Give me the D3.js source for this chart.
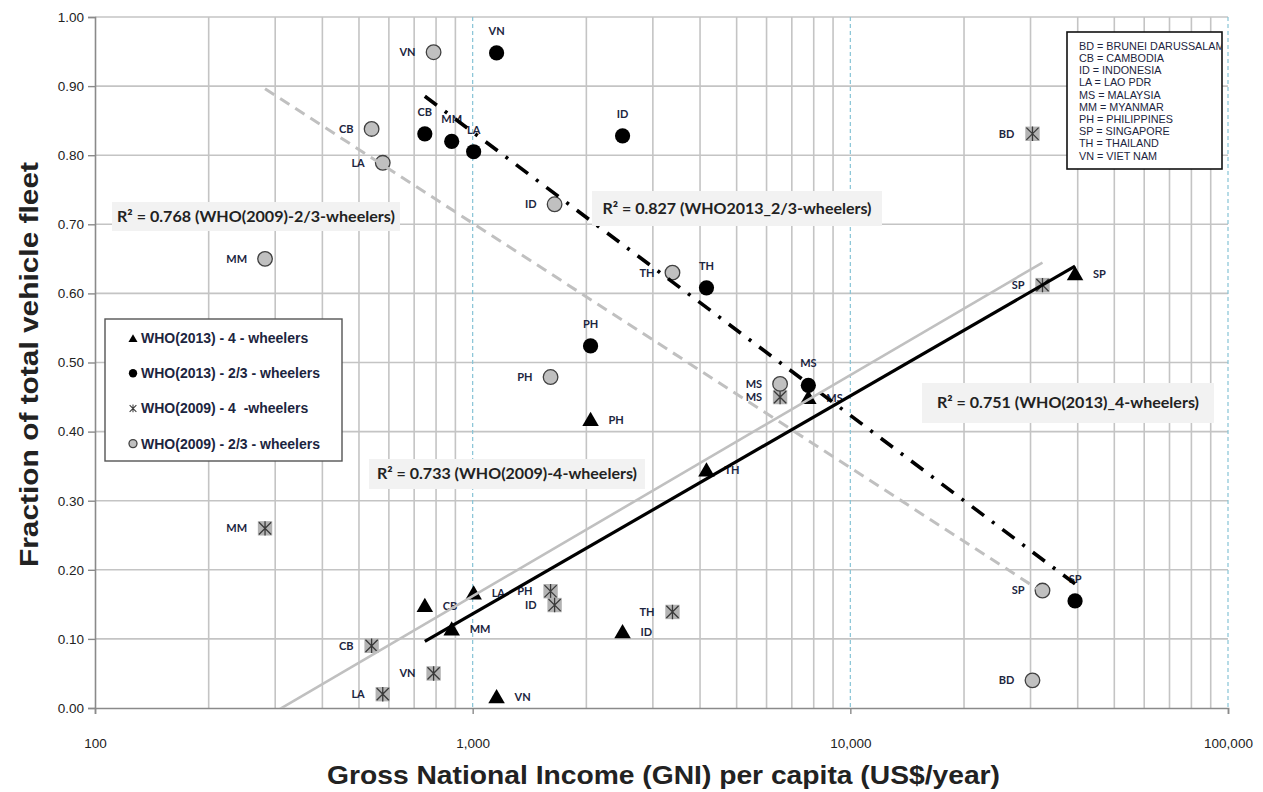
<!DOCTYPE html>
<html>
<head>
<meta charset="utf-8">
<script src="https://cdn.jsdelivr.net/npm/d3@7"></script>
<style>
  body { margin: 0; background: #fff; }
  svg { display: block; }
  text { white-space: pre; }
</style>
</head>
<body>
<svg id="chart" width="1263" height="792"></svg>
<script>
// ---- data -------------------------------------------------------------
// WHO (2013) survey: GNI per capita (US$/year) and share of the vehicle fleet
const countries2013 = ["CB", "MM", "LA", "VN", "PH", "ID", "TH", "MS", "SP"];
const gni2013 = [747, 880, 1006, 1157, 2052, 2494, 4160, 7742, 39360];
const fourWheel2013 = [0.148, 0.114, 0.166, 0.016, 0.417, 0.110, 0.344, 0.449, 0.628];
const twoThreeWheel2013 = [0.831, 0.820, 0.805, 0.948, 0.524, 0.828, 0.608, 0.467, 0.155];

// WHO (2009) survey
const countries2009 = ["MM", "CB", "LA", "VN", "PH", "ID", "TH", "MS", "BD", "SP"];
const gni2009 = [282, 540, 578, 788, 1608, 1648, 3381, 6516, 30360, 32270];
const fourWheel2009 = [0.260, 0.090, 0.020, 0.050, 0.169, 0.149, 0.139, 0.450, 0.831, 0.612];
const twoThreeWheel2009 = [0.650, 0.838, 0.789, 0.949, 0.479, 0.729, 0.630, 0.469, 0.040, 0.170];

const seriesNames = [
  "WHO(2013) - 4 - wheelers",
  "WHO(2013) - 2/3 - wheelers",
  "WHO(2009) - 4  -wheelers",
  "WHO(2009) - 2/3 - wheelers"
];
const fitLabels = [
  "R² = 0.751 (WHO(2013)_4-wheelers)",
  "R² = 0.827 (WHO2013_2/3-wheelers)",
  "R² = 0.733 (WHO(2009)-4-wheelers)",
  "R² = 0.768 (WHO(2009)-2/3-wheelers)"
];
const countryKey = [
  "BD = BRUNEI DARUSSALAM", "CB = CAMBODIA", "ID = INDONESIA", "LA = LAO PDR",
  "MS = MALAYSIA", "MM = MYANMAR", "PH = PHILIPPINES", "SP = SINGAPORE",
  "TH = THAILAND", "VN = VIET NAM"
];
const yTicks = [0, 0.1, 0.2, 0.3, 0.4, 0.5, 0.6, 0.7, 0.8, 0.9, 1.0];
const xTicks = [100, 1000, 10000, 100000];
const xTitle = "Gross National Income (GNI) per capita (US$/year)";
const yTitle = "Fraction of total vehicle fleet";

// ---- layout -----------------------------------------------------------
const W = 1263, H = 792;
const plot = { left: 95, top: 17, right: 1228, bottom: 708 };
const svg = d3.select("#chart");

const x = d3.scaleLog().domain([100, 100000]).range([plot.left, plot.right]);
const y = d3.scaleLinear().domain([0, 1]).range([plot.bottom, plot.top]);

const navy = "#1c2540";
const labelFont = "Lato, 'Open Sans', sans-serif";
const arial = "'Liberation Sans', Arial, sans-serif";

// ---- grid -------------------------------------------------------------
const minorX = [];
[100, 1000, 10000].forEach(dec => { for (let k = 2; k <= 9; k++) minorX.push(dec * k); });

const grid = svg.append("g");
grid.selectAll("line.hx").data(yTicks.filter(v => v > 0)).join("line")
  .attr("x1", plot.left).attr("x2", plot.right)
  .attr("y1", d => y(d)).attr("y2", d => y(d))
  .attr("stroke", "#c4c4c4").attr("stroke-width", 1.6);
grid.selectAll("line.vx").data(minorX).join("line")
  .attr("x1", d => x(d)).attr("x2", d => x(d))
  .attr("y1", plot.top).attr("y2", plot.bottom)
  .attr("stroke", "#c4c4c4").attr("stroke-width", 1.6);
grid.selectAll("line.vmaj").data(xTicks.slice(1)).join("line")
  .attr("x1", d => x(d)).attr("x2", d => x(d))
  .attr("y1", plot.top).attr("y2", plot.bottom)
  .attr("stroke", "#86c3d6").attr("stroke-width", 1.2)
  .attr("stroke-dasharray", "4,3");

// ---- axes -------------------------------------------------------------
const yAxis = svg.append("g").attr("transform", `translate(${plot.left},0)`)
  .call(d3.axisLeft(y).tickValues(yTicks).tickFormat(d3.format(".2f")).tickSize(7).tickPadding(4));
const xAxis = svg.append("g").attr("transform", `translate(0,${plot.bottom})`)
  .call(d3.axisBottom(x).tickValues(xTicks).tickFormat(d3.format(",")).tickSize(6).tickPadding(24));
[yAxis, xAxis].forEach(ax => {
  ax.select(".domain").attr("stroke", "#8a8a8a").attr("stroke-width", 1.6);
  ax.selectAll(".tick line").attr("stroke", "#8a8a8a").attr("stroke-width", 1.4);
  ax.selectAll(".tick text").attr("font-family", arial).attr("font-size", 13.5).attr("fill", "#222");
});

// ---- series -----------------------------------------------------------
function rows(countries, xs, ys) {
  return countries.map((c, i) => ({ c, gni: xs[i], v: ys[i] }));
}
const series = [
  { name: seriesNames[0], data: rows(countries2013, gni2013, fourWheel2013), marker: "triangle", label: "right",
    fit: { stroke: "#000", width: 3.2, dash: null }, fitLabel: fitLabels[0] },
  { name: seriesNames[1], data: rows(countries2013, gni2013, twoThreeWheel2013), marker: "dot", label: "above",
    fit: { stroke: "#000", width: 3.6, dash: "15,10,3,10" }, fitLabel: fitLabels[1] },
  { name: seriesNames[2], data: rows(countries2009, gni2009, fourWheel2009), marker: "star", label: "left",
    fit: { stroke: "#c0c0c0", width: 2.6, dash: null }, fitLabel: fitLabels[2] },
  { name: seriesNames[3], data: rows(countries2009, gni2009, twoThreeWheel2009), marker: "ring", label: "left",
    fit: { stroke: "#c0c0c0", width: 3, dash: "11,7" }, fitLabel: fitLabels[3] }
];

// marker painters, drawn around the local origin
function drawMarker(g, type, scale = 1) {
  if (type === "triangle") {
    g.append("path").attr("d", d3.symbol(d3.symbolTriangle, 118 * scale * scale)())
      .attr("transform", "translate(0,1.5)").attr("fill", "#000");
  } else if (type === "dot") {
    g.append("circle").attr("r", 7.6 * scale).attr("fill", "#000");
  } else if (type === "ring") {
    g.append("circle").attr("r", 7.3 * scale).attr("fill", "#c0c0c0")
      .attr("stroke", "#404040").attr("stroke-width", 1.3);
  } else if (type === "star") {
    const s = 7.2 * scale;
    if (scale >= 1) {
      g.append("rect").attr("x", -s).attr("y", -s).attr("width", 2 * s).attr("height", 2 * s)
        .attr("fill", "#b3b3b3");
    }
    const a = s * 0.85;
    g.append("path")
      .attr("d", `M${-a},${-a}L${a},${a}M${-a},${a}L${a},${-a}M0,${-s}L0,${s}`)
      .attr("stroke", "#3a3a3a").attr("stroke-width", 1.3 * Math.max(scale, 0.8)).attr("fill", "none");
  }
}

const markerLayer = svg.append("g");
series.forEach(s => {
  markerLayer.append("g").selectAll("g").data(s.data).join("g")
    .attr("transform", d => `translate(${x(d.gni)},${y(d.v)})`)
    .each(function () { drawMarker(d3.select(this), s.marker); });
});

// data labels (country codes)
const labelLayer = svg.append("g")
  .attr("font-family", labelFont).attr("font-weight", 700).attr("font-size", 11).attr("fill", navy);
series.forEach(s => {
  labelLayer.append("g").selectAll("text").data(s.data).join("text")
    .attr("x", d => x(d.gni) + (s.label === "right" ? 18 : s.label === "left" ? -18 : 0))
    .attr("y", d => y(d.v) + (s.label === "above" ? -22 : 0))
    .attr("dy", "0.36em")
    .attr("text-anchor", s.label === "right" ? "start" : s.label === "left" ? "end" : "middle")
    .text(d => d.c);
});

// ---- logarithmic trend lines -------------------------------------------
function logFit(data) {
  const lx = data.map(d => Math.log10(d.gni)), ly = data.map(d => d.v);
  const mx = d3.mean(lx), my = d3.mean(ly);
  let sxy = 0, sxx = 0;
  lx.forEach((v, i) => { sxy += (v - mx) * (ly[i] - my); sxx += (v - mx) ** 2; });
  const slope = sxy / sxx;
  return g => my + slope * (Math.log10(g) - mx);
}
svg.append("clipPath").attr("id", "plot-clip").append("rect")
  .attr("x", plot.left).attr("y", plot.top)
  .attr("width", plot.right - plot.left).attr("height", plot.bottom - plot.top);
const fitLayer = svg.append("g").attr("clip-path", "url(#plot-clip)");
const fitLine = d3.line().x(d => x(d[0])).y(d => y(d[1]));
series.forEach(s => {
  const f = logFit(s.data);
  const [lo, hi] = d3.extent(s.data, d => d.gni);
  fitLayer.append("path")
    .attr("d", fitLine([[lo, f(lo)], [hi, f(hi)]]))
    .attr("fill", "none").attr("stroke", s.fit.stroke).attr("stroke-width", s.fit.width)
    .attr("stroke-dasharray", s.fit.dash);
});

// ---- R² boxes -----------------------------------------------------------
const fitBoxes = [
  { text: fitLabels[3], x0: 112, y0: 202, w: 288, h: 29, tl: 278 },
  { text: fitLabels[1], x0: 592, y0: 191, w: 290, h: 35, tl: 269 },
  { text: fitLabels[2], x0: 369, y0: 459, w: 276, h: 30, tl: 260 },
  { text: fitLabels[0], x0: 922, y0: 383, w: 292, h: 40, tl: 262 }
];
const boxLayer = svg.append("g");
fitBoxes.forEach(b => {
  boxLayer.append("rect").attr("x", b.x0).attr("y", b.y0).attr("width", b.w).attr("height", b.h)
    .attr("fill", "#f2f2f2");
  boxLayer.append("text")
    .attr("x", b.x0 + b.w / 2).attr("y", b.y0 + b.h / 2).attr("dy", "0.36em")
    .attr("text-anchor", "middle")
    .attr("font-family", labelFont).attr("font-weight", 700).attr("font-size", 15).attr("fill", "#222")
    .attr("textLength", b.tl).attr("lengthAdjust", "spacingAndGlyphs")
    .text(b.text);
});

// ---- series legend -------------------------------------------------------
const legend = svg.append("g").attr("transform", "translate(105,319)");
legend.append("rect").attr("width", 237).attr("height", 142)
  .attr("fill", "#fff").attr("stroke", "#555").attr("stroke-width", 1.4);
series.forEach((s, i) => {
  const row = legend.append("g").attr("transform", `translate(28,${19 + i * 35.2})`);
  drawMarker(row.append("g"), s.marker, 0.55);
  row.append("text").attr("x", 8).attr("dy", "0.36em")
    .attr("font-family", arial).attr("font-weight", 700).attr("font-size", 14).attr("fill", navy)
    .text(s.name);
});

// ---- country key ----------------------------------------------------------
const key = svg.append("g").attr("transform", "translate(1067,32)");
key.append("clipPath").attr("id", "key-clip").append("rect").attr("width", 155).attr("height", 137);
key.append("rect").attr("width", 155).attr("height", 137)
  .attr("fill", "#fff").attr("stroke", "#111").attr("stroke-width", 1.6);
key.append("g").attr("clip-path", "url(#key-clip)")
  .selectAll("text").data(countryKey).join("text")
  .attr("x", 12).attr("y", (d, i) => 14 + i * 12.2).attr("dy", "0.36em")
  .attr("font-family", arial).attr("font-size", 10.8).attr("fill", navy)
  .text(d => d);

// ---- axis titles ------------------------------------------------------------
svg.append("text")
  .attr("x", (plot.left + plot.right) / 2 + 2).attr("y", 775).attr("dy", "0.36em")
  .attr("text-anchor", "middle").attr("font-family", arial).attr("font-weight", 700)
  .attr("font-size", 26).attr("fill", "#222")
  .attr("textLength", 673).attr("lengthAdjust", "spacingAndGlyphs")
  .text(xTitle);
svg.append("text")
  .attr("transform", `translate(29,${(plot.top + plot.bottom) / 2 + 2}) rotate(-90)`)
  .attr("dy", "0.36em")
  .attr("text-anchor", "middle").attr("font-family", arial).attr("font-weight", 700)
  .attr("font-size", 26).attr("fill", "#222")
  .attr("textLength", 405).attr("lengthAdjust", "spacingAndGlyphs")
  .text(yTitle);
</script>
</body>
</html>
